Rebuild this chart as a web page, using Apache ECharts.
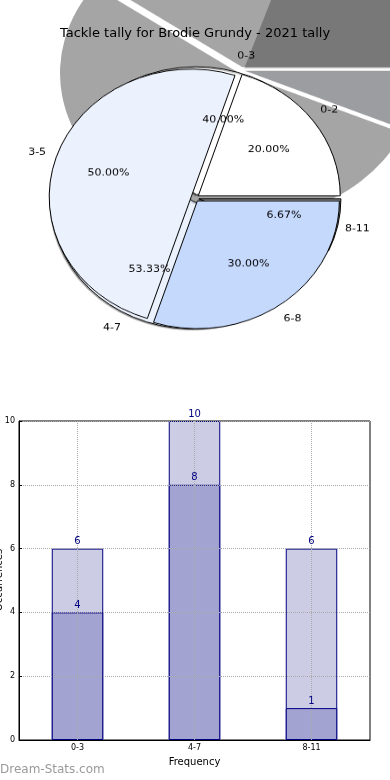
<!DOCTYPE html>
<html><head><meta charset="utf-8">
<script src="https://cdn.jsdelivr.net/npm/echarts@6/dist/echarts.min.js"></script>
<style>
html,body{margin:0;padding:0;background:#fff;}
#wrap{position:relative;width:390px;height:780px;overflow:hidden;}
#shadow{position:absolute;left:0;top:0;width:390px;height:400px;transform:scaleY(0.825);transform-origin:0 0;}
#pie{position:absolute;left:0;top:0;width:390px;height:420px;transform:scaleY(0.9);transform-origin:0 0;}
#main{position:absolute;left:0;top:0;width:390px;height:780px;}
</style></head><body>
<div id="wrap"><div id="shadow"></div><div id="pie"></div><div id="main"></div></div>
<script>
const titleText = 'Tackle tally for Brodie Grundy - 2021 tally';
const pieACategories = ['0-2', '3-5', '6-8'];
const pieAValues = [2, 5, 3];
const pieAColors = ['#ffffff', '#ebf1fd', '#c5d9fd'];
const pieBCategories = ['0-3', '4-7', '8-11'];
const pieBValues = [6, 8, 1];
const pieBColors = ['#ffffff', '#ebf1fd', '#a5a5a5'];
const shadowBColors = ['#a5a5a5', '#a5a5a5', '#9b9da1'];
const shadowAColors = ['rgba(0,0,0,0.27)', 'rgba(0,0,0,0)', 'rgba(0,0,0,0)'];
const barCategories = ['0-3', '4-7', '8-11'];
const barLight = [6, 10, 6];
const barDark = [4, 8, 1];
const yMin = 0, yMax = 10, yStep = 2;
const yAxisName = 'Occurrences';
const FONT = 'DejaVu Sans';

function pieData(names, values, colors, border) {
  return names.map((n, i) => {
    const st = {color: colors[i], borderColor: border ? '#000' : 'transparent', borderWidth: border ? 1 : 0};
    return {name: n, value: values[i], selected: true, itemStyle: st, select: {itemStyle: st}};
  });
}
function pieSeries(names, values, colors, center, radius, offset, border, z) {
  return {
    type: 'pie', center: center, radius: radius, startAngle: 0, clockwise: false,
    selectedMode: 'multiple', selectedOffset: offset, silent: true, animation: false,
    avoidLabelOverlap: false, label: {show: false}, labelLine: {show: false},
    emphasis: {disabled: true}, z: z,
    data: pieData(names, values, colors, border)
  };
}
function labelSeries(names, values, center, radius, offset, fmt, z) {
  const s = pieSeries(names, values, names.map(() => 'rgba(0,0,0,0)'), center, radius, offset, false, z);
  s.label = {show: true, position: 'inside', formatter: fmt, color: '#000', fontSize: 11, fontFamily: FONT};
  return s;
}

// shadow pies
const shadowChart = echarts.init(document.getElementById('shadow'), null, {renderer: 'canvas'});
shadowChart.setOption({
  animation: false,
  series: [
    pieSeries(pieBCategories, pieBValues, shadowBColors, [241, 85], [0, 179], 4, false, 1),
    pieSeries(pieACategories, pieAValues, shadowAColors, [241, 85], [0, 179], 4, false, 2)
  ]
});

// main pies
const C = [195, 220];
const R = 142;
const pctFmt = p => p.percent.toFixed(2) + '%';
const pieChart = echarts.init(document.getElementById('pie'), null, {renderer: 'canvas'});
const pieBFill = pieSeries(pieBCategories, pieBValues, pieBColors, C, [0, R], 4, true, 2);
pieBFill.itemStyle = {shadowColor: 'rgba(0,0,0,0.35)', shadowBlur: 1, shadowOffsetX: -1, shadowOffsetY: 1};
pieChart.setOption({
  animation: false,
  series: [
    pieBFill,
    pieSeries(pieACategories, pieAValues, pieAColors, C, [0, R], 4, true, 3),
    labelSeries(pieBCategories, pieBValues, C, [70, 98], 4, pctFmt, 5),
    labelSeries(pieBCategories, pieBValues, C, [146, 172], 4, '{b}', 5),
    labelSeries(pieACategories, pieAValues, C, [70, 98], 4, pctFmt, 5),
    labelSeries(pieACategories, pieAValues, C, [146, 172], 4, '{b}', 5)
  ]
});

// title + bar chart
const main = echarts.init(document.getElementById('main'), null, {renderer: 'canvas'});
const barLabel = {show: true, position: 'top', distance: 2, color: '#000080', fontSize: 10, fontFamily: FONT};
function barSeries(data, fill, border, z, withLabel) {
  return {type: 'bar', data: data, barWidth: '44%', barGap: '-100%', z: z, silent: true,
    itemStyle: {color: fill, borderColor: border, borderWidth: border === 'transparent' ? 0 : 1},
    label: withLabel ? barLabel : {show: false}};
}
main.setOption({
  animation: false,
  title: {text: titleText, left: 'center', top: 22,
    textStyle: {fontSize: 13, fontWeight: 'normal', color: '#000', fontFamily: FONT}},
  graphic: [
    {type: 'text', left: 0, top: 764, style: {text: 'Dream-Stats.com', fill: '#9a9a9a', font: '12px "DejaVu Sans"'}},
    {type: 'text', x: -1, y: 580, rotation: Math.PI / 2,
      style: {text: yAxisName, fill: '#000', font: '10px "DejaVu Sans"', align: 'center', verticalAlign: 'middle'}}
  ],
  grid: {left: 19, right: 20, top: 421, bottom: 40, show: true, borderColor: '#000', borderWidth: 1,
    containLabel: false, outerBoundsMode: 'none'},
  xAxis: {
    type: 'category', data: barCategories, z: 3,
    axisLine: {show: true, lineStyle: {color: '#000'}},
    axisTick: {show: false},
    axisLabel: {fontSize: 8, color: '#000', margin: 4, fontFamily: FONT},
    splitLine: {show: true, alignWithLabel: true, lineStyle: {type: 'dotted', color: '#aaa', width: 1}},
    name: 'Frequency', nameLocation: 'middle', nameGap: 17,
    nameTextStyle: {fontSize: 10, color: '#000', fontFamily: FONT}
  },
  yAxis: {
    type: 'value', min: yMin, max: yMax, interval: yStep, z: 3,
    axisLine: {show: true, lineStyle: {color: '#000'}},
    axisTick: {show: true, inside: true, length: 3, lineStyle: {color: '#000'}},
    axisLabel: {fontSize: 8, color: '#000', margin: 4, fontFamily: FONT},
    splitLine: {show: true, lineStyle: {type: 'dotted', color: '#aaa', width: 1}}
  },
  series: [
    barSeries(barLight, '#cccce5', '#000080', 1, false),
    barSeries(barDark, '#a3a3d1', '#000080', 2, false),
    barSeries(barLight, 'transparent', 'transparent', 5, true),
    barSeries(barDark, 'transparent', 'transparent', 6, true)
  ]
});
</script>
</body></html>
